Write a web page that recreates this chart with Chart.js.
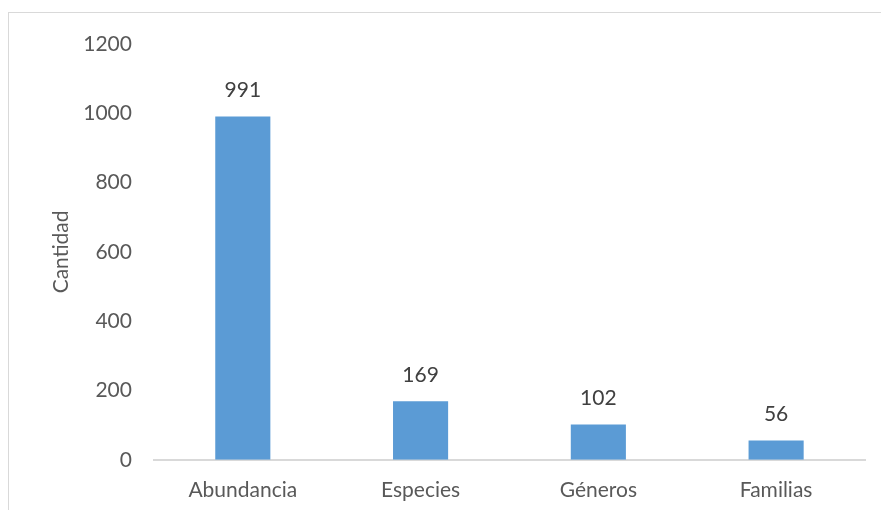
<!DOCTYPE html>
<html>
<head>
<meta charset="utf-8">
<script src="https://cdn.jsdelivr.net/npm/chart.js@4/dist/chart.umd.min.js"></script>
<style>
  html, body { margin: 0; padding: 0; background: #fff; }
  #wrap { width: 881px; height: 510px; }
</style>
</head>
<body>
<div id="wrap"><canvas id="myChart" width="881" height="510"></canvas></div>
<script>
  const categories = ['Abundancia', 'Especies', 'Géneros', 'Familias'];
  const cantidad = [991, 169, 102, 56];
  const yTicks = [0, 200, 400, 600, 800, 1000, 1200];

  // light frame around the chart (only top and left visible in the original)
  const frame = {
    id: 'frame',
    beforeDraw: (chart) => {
      const ctx = chart.ctx;
      ctx.save();
      ctx.strokeStyle = '#d9d9d9';
      ctx.lineWidth = 1;
      ctx.strokeRect(8.5, 12.5, chart.width + 20, chart.height + 20);
      ctx.restore();
    }
  };

  // value labels above the bars
  const valueLabels = {
    id: 'valueLabels',
    afterDatasetsDraw: (chart) => {
      const ctx = chart.ctx;
      ctx.save();
      ctx.fillStyle = '#404040';
      ctx.font = '21px Lato';
      ctx.textAlign = 'center';
      ctx.textBaseline = 'bottom';
      chart.getDatasetMeta(0).data.forEach((bar, i) => {
        ctx.fillText(chart.data.datasets[0].data[i], bar.x, bar.y - 16);
      });
      ctx.restore();
    }
  };

  let myChart = new Chart(document.getElementById('myChart'), {
    type: 'bar',
    data: {
      labels: categories,
      datasets: [{
        label: 'Cantidad',
        backgroundColor: '#5b9bd5',
        data: cantidad,
        barPercentage: 0.62,
        categoryPercentage: 0.5
      }]
    },
    plugins: [frame, valueLabels],
    options: {
      responsive: false,
      animation: false,
      layout: { padding: { top: 44, right: 16, left: 49, bottom: -11 } },
      plugins: {
        legend: { display: false },
        tooltip: { enabled: false }
      },
      scales: {
        x: {
          grid: { display: false, drawTicks: false },
          border: { display: true, color: '#d9d9d9', width: 2 },
          ticks: { color: '#595959', font: { family: 'Lato', size: 21 }, padding: 18 }
        },
        y: {
          min: 0,
          max: 1200,
          afterBuildTicks: (axis) => { axis.ticks = yTicks.map(v => ({ value: v })); },
          grid: { display: false, drawTicks: false },
          border: { display: false },
          ticks: {
            color: '#595959',
            font: { family: 'Lato', size: 21 },
            padding: 22,
            callback: (v) => String(v)
          },
          title: {
            display: true,
            text: 'Cantidad',
            color: '#595959',
            font: { family: 'Lato', size: 21 },
            padding: { top: 0, bottom: -13 }
          }
        }
      }
    }
  });
</script>
</body>
</html>
